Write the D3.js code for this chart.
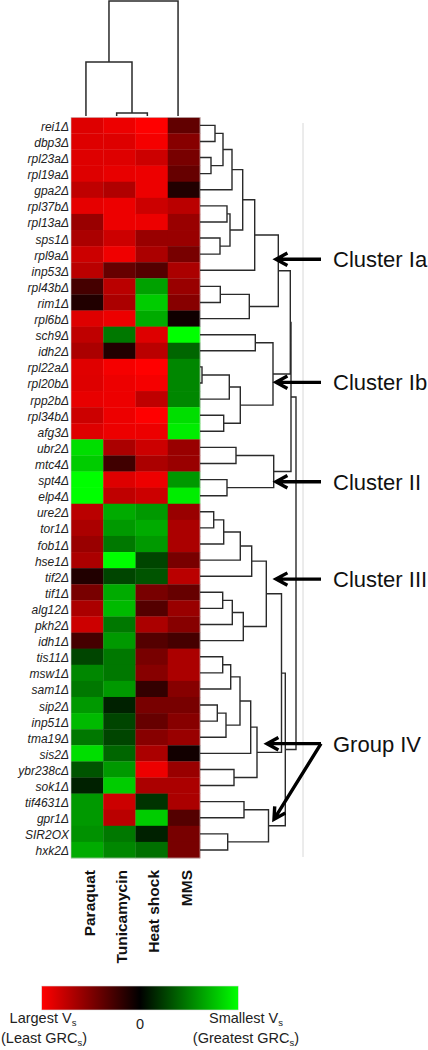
<!DOCTYPE html>
<html><head><meta charset="utf-8">
<script src="https://cdn.jsdelivr.net/npm/d3@7"></script>
<style>html,body{margin:0;padding:0;background:#fff;}svg{display:block;}</style>
</head><body>
<script>
const rows = ["rei1Δ","dbp3Δ","rpl23aΔ","rpl19aΔ","gpa2Δ","rpl37bΔ","rpl13aΔ","sps1Δ","rpl9aΔ","inp53Δ",
"rpl43bΔ","rim1Δ","rpl6bΔ","sch9Δ","idh2Δ","rpl22aΔ","rpl20bΔ","rpp2bΔ","rpl34bΔ","afg3Δ",
"ubr2Δ","mtc4Δ","spt4Δ","elp4Δ","ure2Δ","tor1Δ","fob1Δ","hse1Δ","tif2Δ","tif1Δ",
"alg12Δ","pkh2Δ","idh1Δ","tis11Δ","msw1Δ","sam1Δ","sip2Δ","inp51Δ","tma19Δ","sis2Δ",
"ybr238cΔ","sok1Δ","tif4631Δ","gpr1Δ","SIR2OX","hxk2Δ"];
const conditions = ["Paraquat","Tunicamycin","Heat shock","MMS"];

// negative = red (largest Vs), positive = green (smallest Vs)
const paraquat = [-0.87,-0.87,-0.87,-0.87,-0.75,-0.9,-0.6,-0.67,-0.8,-0.73,
-0.27,-0.13,-0.87,-0.75,-0.67,-0.88,-0.87,-0.91,-0.8,-0.87,
0.87,0.8,1,1,-0.73,-0.67,-0.6,-0.67,-0.13,-0.47,
-0.67,-0.8,-0.27,0.27,0.53,0.47,0.6,0.73,0.47,0.87,
0.33,0.13,0.6,0.6,0.57,0.67];
const tunicamycin = [-0.93,-0.87,-0.87,-0.91,-0.69,-0.93,-0.93,-0.8,-0.94,-0.4,
-0.73,-0.67,-0.93,0.47,-0.13,-0.96,-0.93,-0.93,-0.93,-0.93,
-0.67,-0.25,-0.87,-0.75,0.67,0.6,0.47,1,0.27,0.67,
0.73,0.47,0.6,0.47,0.47,0.6,0.13,0.27,0.27,0.4,
0.6,0.8,-0.8,-0.73,0.47,0.53];
const heatShock = [-1,-0.96,-0.8,-0.93,-0.93,-0.8,-0.93,-0.6,-0.67,-0.33,
0.63,0.8,0.67,-0.87,-0.73,-1,-0.96,-0.75,-1,-0.93,
-0.8,-0.67,-0.93,-0.8,0.6,0.67,0.6,0.27,0.33,-0.47,
-0.33,-0.67,-0.33,-0.47,-0.53,-0.2,-0.47,-0.4,-0.53,-0.67,
-0.93,-0.67,0.2,0.8,0.13,0.44];
const mms = [-0.38,-0.53,-0.47,-0.4,-0.13,-0.73,-0.6,-0.6,-0.47,-0.67,
-0.6,-0.53,-0.06,1,0.4,0.53,0.53,0.53,0.87,0.93,
-0.6,-0.6,0.6,0.93,-0.6,-0.67,-0.67,-0.47,-0.73,-0.4,
-0.6,-0.53,-0.27,-0.67,-0.67,-0.53,-0.47,-0.53,-0.6,-0.07,
-0.6,-0.67,-0.67,-0.33,-0.47,-0.47];
const seriesValues = [paraquat, tunicamycin, heatShock, mms];

// dendrograms: [mergeHeight, left, right]
const rowTree =
[96,
  [91,
    [90.3,
      [78.3,
        [54.7,
          [42.7,
            [32, [23, [15,"rei1Δ","dbp3Δ"], [11,"rpl23aΔ","rpl19aΔ"]], "gpa2Δ"],
            [30, [27,"rpl37bΔ","rpl13aΔ"], [20,"sps1Δ","rpl9aΔ"]]
          ],
          "inp53Δ"
        ],
        [49.3, [20.3,"rpl43bΔ","rim1Δ"], "rpl6bΔ"]
      ],
      [73, [55.3,"sch9Δ","idh2Δ"], [40.3, [29.3, [2,"rpl22aΔ","rpl20bΔ"], "rpp2bΔ"], [23.7,"rpl34bΔ","afg3Δ"]]]
    ],
    [73.7, [36,"ubr2Δ","mtc4Δ"], [27,"spt4Δ","elp4Δ"]]
  ],
  [85.3,
    [81.5,
      [66.3,
        [51.7, [40.3, [23.7, [13.7,"ure2Δ","tor1Δ"], "fob1Δ"], "hse1Δ"], "tif2Δ"],
        [43.3, [32.3, [22.7,"tif1Δ","alg12Δ"], "pkh2Δ"], "idh1Δ"]
      ],
      [57,
        [50.7, [40, [30.7,[22.7,"tis11Δ","msw1Δ"],"sam1Δ"], [26,[17.3,"sip2Δ","inp51Δ"],"tma19Δ"]], "sis2Δ"],
        [34,"ybr238cΔ","sok1Δ"]
      ]
    ],
    [68.5, [44,"tif4631Δ","gpr1Δ"], [27.7,"SIR2OX","hxk2Δ"]]
  ]
];
const colTree = [115, [54, "Paraquat", [3, "Tunicamycin", "Heat shock"]], "MMS"];

// cluster annotations: label, arrow row position (fractional row index)
const clusterLabels = ["Cluster Ia","Cluster Ib","Cluster II","Cluster III","Group IV"];
const clusterArrowRow = [8.82, 16.46, 22.63, 28.68, 38.9];
const groupIVSecondTipRow = 43.6;

const legendLeft = ["Largest V","(Least GRC"];
const legendRight = ["Smallest V","(Greatest GRC"];

const W = 428, H = 1050;
const svg = d3.select("body").append("svg").attr("width", W).attr("height", H)
  .style("font-family","'Liberation Sans', Arial, sans-serif");

const y = d3.scaleBand().domain(rows).range([117.3, 858]);
const x = d3.scaleBand().domain(conditions).range([71, 200]);
const color = d3.scaleLinear().domain([-1,0,1]).range(["#ff0000","#000000","#00ff00"]);
const rowIdx = d3.scaleLinear().domain([0, rows.length]).range([117.3, 858]);

// heatmap cells
const cells = [];
conditions.forEach((c, j) => rows.forEach((r, i) => cells.push({r, c, v: seriesValues[j][i]})));
svg.append("g").selectAll("rect").data(cells).join("rect")
  .attr("x", d => x(d.c)).attr("y", d => y(d.r))
  .attr("width", x.bandwidth() + 0.3).attr("height", y.bandwidth() + 0.3)
  .attr("fill", d => color(d.v));
svg.append("rect").attr("x", 71).attr("y", 117.3).attr("width", 129).attr("height", 858-117.3)
  .attr("fill","none").attr("stroke","#ccc").attr("stroke-width",0.6);

// row labels
svg.append("g").selectAll("text").data(rows).join("text")
  .attr("x", 69).attr("y", d => y(d) + y.bandwidth()/2 + 1.5)
  .attr("text-anchor","end").attr("dominant-baseline","central")
  .attr("font-style","italic").attr("font-size", 12).attr("fill","#222")
  .text(d => d);

// column labels
svg.append("g").selectAll("text").data(conditions).join("text")
  .attr("transform", d => `translate(${x(d) + x.bandwidth()/2 + 7.7},870) rotate(-90)`)
  .attr("text-anchor","end").attr("font-weight","bold").attr("font-size", 15.5).attr("fill","#111")
  .text(d => d);

// dendrogram layout helper
function layout(node, leafPos) {
  if (!Array.isArray(node)) return {pos: leafPos(node), h: 0};
  const a = layout(node[1], leafPos), b = layout(node[2], leafPos);
  return {pos: (a.pos + b.pos)/2, h: node[0], kids: [a, b]};
}
function collect(n, out) { if (n.kids) { out.push(n); n.kids.forEach(k => collect(k, out)); } return out; }

// row dendrogram
const hx = d3.scaleLinear().domain([0, 96]).range([200, 296]);
const rroot = layout(rowTree, r => y(r) + y.bandwidth()/2);
const rpath = d3.path();
collect(rroot, []).forEach(n => {
  const [a, b] = n.kids;
  rpath.moveTo(hx(a.h), a.pos); rpath.lineTo(hx(n.h), a.pos);
  rpath.lineTo(hx(n.h), b.pos); rpath.lineTo(hx(b.h), b.pos);
});
svg.append("path").attr("d", rpath.toString()).attr("fill","none")
  .attr("stroke","#2a2a2a").attr("stroke-width",1.4);

// column dendrogram
const xc = d3.scaleBand().domain(conditions).range([70.6, 193.4]);
const hy = d3.scaleLinear().domain([0, 115]).range([116, 1]);
const croot = layout(colTree, c => xc(c) + xc.bandwidth()/2);
const cpath = d3.path();
collect(croot, []).forEach(n => {
  const [a, b] = n.kids;
  cpath.moveTo(a.pos, hy(a.h)); cpath.lineTo(a.pos, hy(n.h));
  cpath.lineTo(b.pos, hy(n.h)); cpath.lineTo(b.pos, hy(b.h));
});
svg.append("path").attr("d", cpath.toString()).attr("fill","none")
  .attr("stroke","#2a2a2a").attr("stroke-width",1.5);

// light vertical frame line
svg.append("line").attr("x1",303).attr("x2",303).attr("y1",123).attr("y2",857)
  .attr("stroke","#d8d8d8").attr("stroke-width",1);

// arrows
function arrow(x1, y1, x2, y2) {
  const ang = Math.atan2(y1 - y2, x1 - x2), L = 13, s = 0.5;
  const p = d3.path();
  p.moveTo(x1, y1); p.lineTo(x2, y2);
  p.moveTo(x2 + L*Math.cos(ang - s), y2 + L*Math.sin(ang - s));
  p.lineTo(x2, y2);
  p.lineTo(x2 + L*Math.cos(ang + s), y2 + L*Math.sin(ang + s));
  svg.append("path").attr("d", p.toString()).attr("fill","none")
    .attr("stroke","#000").attr("stroke-width",3.4).attr("stroke-linejoin","miter");
}
clusterLabels.forEach((lab, i) => {
  const ay = rowIdx(clusterArrowRow[i]);
  const tipX = i === 4 ? 267 : 276;
  arrow(321, ay, tipX, ay);
  svg.append("text").attr("x", 333).attr("y", ay + 8).attr("font-size", 22).attr("fill","#111").text(lab);
});
arrow(321, rowIdx(clusterArrowRow[4]), 274, rowIdx(groupIVSecondTipRow));

// legend
const defs = svg.append("defs");
const grad = defs.append("linearGradient").attr("id","lg");
grad.selectAll("stop").data([["0%","#ff0000"],["50%","#000000"],["100%","#00ff00"]]).join("stop")
  .attr("offset", d => d[0]).attr("stop-color", d => d[1]);
const lx = d3.scaleLinear().domain([-1,1]).range([41.7, 238.3]);
svg.append("rect").attr("x", lx(-1)).attr("y", 986).attr("width", lx(1)-lx(-1)).attr("height", 24)
  .attr("fill","url(#lg)").attr("stroke","#ddd").attr("stroke-width",0.6);

function subText(px, yy, main, tail, anchor) {
  const t = svg.append("text").attr("x", px).attr("y", yy).attr("text-anchor", anchor)
    .attr("font-size", 14.5).attr("fill","#222");
  t.append("tspan").text(main);
  t.append("tspan").attr("font-size", 9.5).attr("dy", 3).text("s");
  if (tail) t.append("tspan").attr("dy", -3).text(tail);
}
subText(43, 1022.7, legendLeft[0], "", "middle");
subText(1, 1042.7, legendLeft[1], ")", "start");
subText(246, 1022.7, legendRight[0], "", "middle");
subText(246, 1042.7, legendRight[1], ")", "middle");
svg.append("text").attr("x", lx(0)).attr("y", 1029).attr("text-anchor","middle")
  .attr("font-size", 14.5).attr("fill","#222").text("0");
</script>
</body></html>
